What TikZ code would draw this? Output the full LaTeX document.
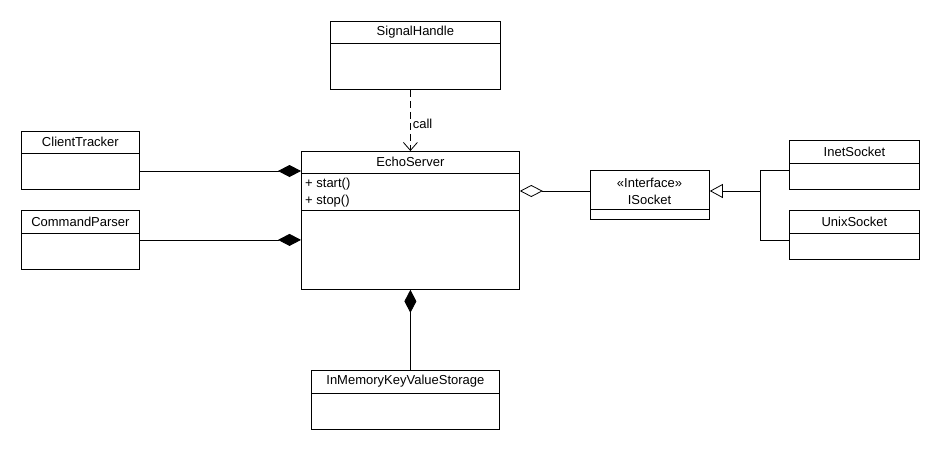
\documentclass[tikz,border=0pt]{standalone}
\usepackage{fontspec}
\setmainfont{Liberation Sans}
\usetikzlibrary{arrows.meta}
\tikzset{
  x=1pt, y=-1pt,
  line/.style={line width=0.8pt, black},
  clsbox/.style={draw, line width=0.8pt, rectangle, anchor=north west, inner sep=0pt, fill=white},
  lbl/.style={font=\fontsize{13}{16}\selectfont, inner sep=0pt},
  comp/.style={line, {Diamond[length=23pt,width=12pt]}-},
  aggr/.style={line, {Diamond[open,length=23pt,width=12pt,fill=white]}-},
  gen/.style={line, -{Triangle[open,length=13pt,width=14pt,fill=white]}},
  dep/.style={line, dash pattern=on 7pt off 4pt, -{Straight Barb[length=8pt,width=14pt]}},
}
% \umlclass{name}{x}{y}{width}{height}{header height}{title}
\newcommand\umlclass[7]{%
  \node[clsbox, minimum width=#4pt, minimum height=#5pt] (#1) at (#2,#3) {};
  \draw[line] ([yshift=-#6pt]#1.north west) -- ([yshift=-#6pt]#1.north east);
  \node[lbl] (#1-title) at ([yshift=-#6pt/2]#1.north) {#7};
}
\begin{document}
\begin{tikzpicture}
\useasboundingbox[fill=white] (0,0) rectangle (940,450);

% classes
\umlclass{sh}{330}{21}{170}{68}{22}{SignalHandle}
\umlclass{ct}{21}{131}{118}{58}{22}{ClientTracker}
\umlclass{cp}{21}{210}{118}{59}{23}{CommandParser}
\umlclass{es}{301}{151}{218}{138}{22}{EchoServer}
\umlclass{km}{311}{370}{188}{59}{23}{InMemoryKeyValueStorage}
\umlclass{inet}{789}{140}{130}{49}{23}{InetSocket}
\umlclass{unix}{789}{210}{130}{49}{23}{UnixSocket}

% EchoServer operations
\draw[line] ([yshift=-59pt]es.north west) -- ([yshift=-59pt]es.north east);
\node[lbl, anchor=west] (es-start) at (305,184) {+ start()};
\node[lbl, anchor=west] (es-stop) at (305,201) {+ stop()};

% interface
\node[clsbox, minimum width=119pt, minimum height=49pt] (is) at (590,170) {};
\draw[line] ([yshift=-39pt]is.north west) -- ([yshift=-39pt]is.north east);
\node[lbl, align=center, font=\fontsize{13}{17}\selectfont] (is-title) at (649.5,191.5) {«Interface»\\ISocket};

% compositions
\draw[comp] (es.west |- 0,171) coordinate (e1) -- (e1 -| ct.east);
\draw[comp] (es.west |- cp.east) -- (cp.east);
\draw[comp] (es.south) -- (es.south |- km.north);

% aggregation
\draw[aggr] (es.east |- 0,191) coordinate (e2) -- (e2 -| is.west);

% generalization
\coordinate (j) at (760,191);
\draw[line] ([yshift=-5pt]inet.west) -| (j);
\draw[line] ([yshift=-5.5pt]unix.west) -| (j);
\draw[gen] (j) -- (j -| is.east);

% dependency
\draw[dep] (es.north |- sh.south) -- (es.north)
  node[pos=0.55, right=2pt, lbl] (call) {call};
\end{tikzpicture}
\end{document}
